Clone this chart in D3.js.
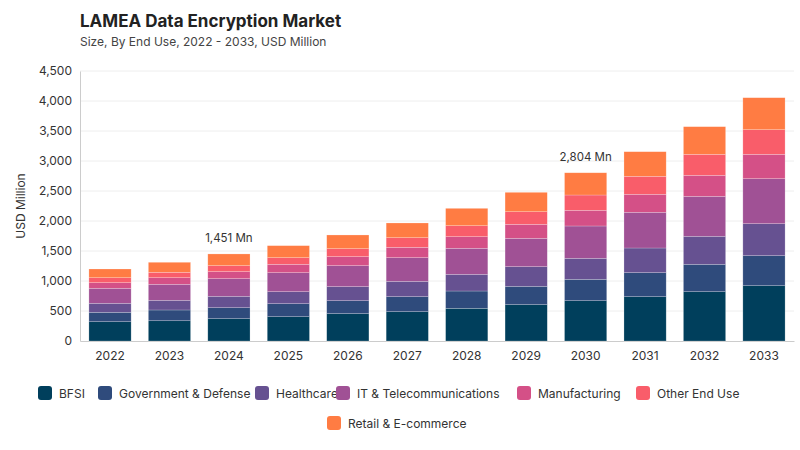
<!DOCTYPE html><html><head><meta charset="utf-8"><script src="https://cdn.jsdelivr.net/npm/d3@7"></script>
<style>body{margin:0;background:#fff;font-family:Inter,"Open Sans",sans-serif}</style></head><body><svg id="c" width="800" height="450"></svg>
<script>
const years=["2022","2023","2024","2025","2026","2027","2028","2029","2030","2031","2032","2033"];
const seriesNames=["BFSI","Government & Defense","Healthcare","IT & Telecommunications","Manufacturing","Other End Use","Retail & E-commerce"];
const colors=["#003f5c","#2f4b7c","#665191","#a05195","#d45087","#f95d6a","#ff7c43"];
const BFSI=[322,338,372,405,456,489,545,606,672,739,822,922];
const Gov=[156,179,183,217,216,250,288,305,356,400,456,500];
const Health=[150,161,190,200,234,255,278,328,350,411,467,533];
const IT=[250,267,294,317,350,395,434,472,539,595,666,750];
const Manu=[94,110,117,139,150,172,194,233,261,300,350,406];
const Other=[83,90,100,111,133,161,183,211,255,300,350,411];
const Retail=[145,167,195,200,228,245,289,323,371,410,461,533];
const yTicks=[0,500,1000,1500,2000,2500,3000,3500,4000,4500];
const annotations={"2024":"1,451 Mn","2030":"2,804 Mn"};
const all=[BFSI,Gov,Health,IT,Manu,Other,Retail];
const data=years.map((y,i)=>{const o={year:y};seriesNames.forEach((s,j)=>o[s]=all[j][i]);return o;});
const svg=d3.select("#c");
const x=d3.scaleBand().domain(years).range([80,794]).paddingInner(0.29).paddingOuter(0.15);
const y=d3.scaleLinear().domain([0,4500]).range([341,71]);
svg.append("text").attr("x",80).attr("y",27).attr("font-size",17).attr("font-weight",700).attr("fill","#222").text("LAMEA Data Encryption Market");
svg.append("text").attr("x",80).attr("y",46).attr("font-size",12).attr("fill","#444").text("Size, By End Use, 2022 - 2033, USD Million");
svg.append("g").selectAll("line").data(yTicks.slice(1)).join("line").attr("x1",80).attr("x2",794).attr("y1",d=>y(d)).attr("y2",d=>y(d)).attr("stroke","#eee");
const ya=svg.append("g").attr("transform","translate(80,0)").call(d3.axisLeft(y).tickValues(yTicks).tickFormat(d3.format(",")).tickSize(0).tickPadding(8));
ya.select(".domain").attr("stroke","#ccc");ya.selectAll("text").attr("font-size",12).attr("fill","#333").attr("font-family","Inter");
const xa=svg.append("g").attr("transform","translate(0,341)").call(d3.axisBottom(x).tickSize(0).tickPadding(10));
xa.select(".domain").attr("stroke","#ccc");xa.selectAll("text").attr("font-size",12).attr("fill","#333").attr("font-family","Inter");
svg.append("text").attr("transform","translate(25,206) rotate(-90)").attr("text-anchor","middle").attr("font-size",12).attr("fill","#333").text("USD Million");
const stack=d3.stack().keys(seriesNames)(data);
svg.append("g").selectAll("g").data(stack).join("g").attr("fill",(d,i)=>colors[i])
 .selectAll("rect").data(d=>d).join("rect").attr("x",d=>x(d.data.year)).attr("width",x.bandwidth())
 .attr("y",d=>y(d[1])).attr("height",d=>y(d[0])-y(d[1])).attr("stroke","#fff").attr("stroke-opacity",0.35).attr("stroke-width",0.6);
const tot=years.map((yy,i)=>all.reduce((a,s)=>a+s[i],0));
Object.keys(annotations).forEach(k=>{const i=years.indexOf(k);svg.append("text").attr("x",x(k)+x.bandwidth()/2).attr("y",y(tot[i])-12).attr("text-anchor","middle").attr("font-size",11.5).attr("fill","#333").text(annotations[k]);});
const leg=[[38,393],[98,393],[255,393],[336,393],[517,393],[636,393],[327,423]];
const lx=[38,98,255,336,517,636,327];
seriesNames.forEach((s,i)=>{const g=svg.append("g").attr("transform",`translate(${leg[i][0]},${leg[i][1]})`);
 g.append("rect").attr("x",0).attr("y",-7).attr("width",14).attr("height",14).attr("rx",3).attr("fill",colors[i]);
 g.append("text").attr("x",21).attr("y",4.5).attr("font-size",12).attr("fill","#333").text(s);});
</script></body></html>
